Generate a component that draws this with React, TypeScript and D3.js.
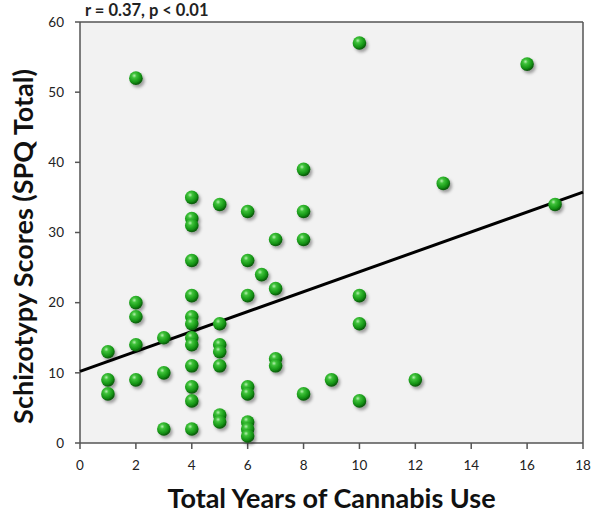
import * as d3 from "d3";

// Years of use (x) and SPQ total (y), one entry per participant
const yearsOfUse = [
  1, 1, 1,
  2, 2, 2, 2, 2,
  3, 3, 3,
  4, 4, 4, 4, 4, 4, 4, 4, 4, 4, 4, 4, 4,
  5, 5, 5, 5, 5, 5, 5,
  6, 6, 6, 6, 6, 6, 6, 6,
  6.5,
  7, 7, 7, 7,
  8, 8, 8, 8,
  9,
  10, 10, 10, 10,
  12, 13, 16, 17,
];
const spqScores = [
  13, 9, 7,
  52, 20, 18, 14, 9,
  15, 10, 2,
  35, 32, 31, 26, 21, 18, 17, 15, 14, 11, 8, 6, 2,
  34, 17, 14, 13, 11, 4, 3,
  33, 26, 21, 8, 7, 3, 2, 1,
  24,
  29, 22, 12, 11,
  39, 33, 29, 7,
  9,
  57, 21, 17, 6,
  9, 37, 54, 34,
];

// fitted line as it appears in the figure
const fitIntercept = 10.2;
const fitSlope = 1.42;

const xTicks = [0, 2, 4, 6, 8, 10, 12, 14, 16, 18];
const yTicks = [0, 10, 20, 30, 40, 50, 60];

const titleText = "r = 0.37, p < 0.01";
const xLabel = "Total Years of Cannabis Use";
const yLabel = "Schizotypy Scores (SPQ Total)";

const W = 601;
const H = 516;
const margin = { top: 22, right: 18, bottom: 73, left: 80 };
const font = "Lato, 'Open Sans', sans-serif";

export default function App() {
  const x = d3.scaleLinear().domain([0, 18]).range([margin.left, W - margin.right]);
  const y = d3.scaleLinear().domain([0, 60]).range([H - margin.bottom, margin.top]);
  const points = d3.zip(yearsOfUse, spqScores);
  const fit = d3.line<number>().x(d => x(d)).y(d => y(fitIntercept + fitSlope * d));
  const axisColor = "#555";

  return (
    <svg width={W} height={H} style={{ position: "absolute", left: 0, top: 0, background: "#fff" }}>
      <defs>
        <radialGradient id="ball" cx="38%" cy="32%" r="68%">
          <stop offset="0%" stopColor="#b6f0b0" />
          <stop offset="25%" stopColor="#3fc23a" />
          <stop offset="70%" stopColor="#159515" />
          <stop offset="100%" stopColor="#0a560a" />
        </radialGradient>
        <filter id="shadow" x="-50%" y="-50%" width="200%" height="200%">
          <feDropShadow dx="2" dy="2.5" stdDeviation="1.6" floodColor="#000" floodOpacity="0.35" />
        </filter>
      </defs>

      <rect x={x(0)} y={y(60)} width={x(18) - x(0)} height={y(0) - y(60)} fill="#f2f2f2" />

      {/* frame */}
      <g stroke={axisColor} strokeWidth={1.5} fill="none">
        <line x1={x(0)} x2={x(18)} y1={y(60)} y2={y(60)} />
        <line x1={x(18)} x2={x(18)} y1={y(60)} y2={y(0)} />
        <line x1={x(0)} x2={x(0)} y1={y(60)} y2={y(0)} />
        <line x1={x(0)} x2={x(18)} y1={y(0)} y2={y(0)} />
      </g>

      {yTicks.map(t => (
        <g key={"y" + t}>
          <line x1={x(0) - 5} x2={x(0)} y1={y(t)} y2={y(t)} stroke={axisColor} strokeWidth={1.5} />
          <text x={x(0) - 16} y={y(t)} dy="0.35em" textAnchor="end" fontFamily={font} fontSize={13.5} fill="#222">
            {t}
          </text>
        </g>
      ))}
      {xTicks.map(t => (
        <g key={"x" + t}>
          <line x1={x(t)} x2={x(t)} y1={y(0)} y2={y(0) + 6} stroke={axisColor} strokeWidth={1.5} />
          <text x={x(t)} y={y(0) + 27} textAnchor="middle" fontFamily={font} fontSize={13.5} fill="#222">
            {t}
          </text>
        </g>
      ))}

      <path d={fit([0, 18]) || ""} stroke="#000" strokeWidth={3} fill="none" />

      <g filter="url(#shadow)">
        {points.map(([px, py], i) => (
          <circle key={i} cx={x(px)} cy={y(py)} r={6.8} fill="url(#ball)" />
        ))}
      </g>

      <text x={85} y={16} fontFamily={font} fontWeight="bold" fontSize={16.5} fill="#222">
        {titleText}
      </text>
      <text x={(x(0) + x(18)) / 2} y={508} textAnchor="middle" fontFamily={font} fontWeight="bold" fontSize={27} fill="#111">
        {xLabel}
      </text>
      <text
        transform={`translate(33,${(y(0) + y(60)) / 2 + 14}) rotate(-90)`}
        textAnchor="middle"
        fontFamily={font}
        fontWeight="bold"
        fontSize={27}
        fill="#111"
      >
        {yLabel}
      </text>
    </svg>
  );
}
